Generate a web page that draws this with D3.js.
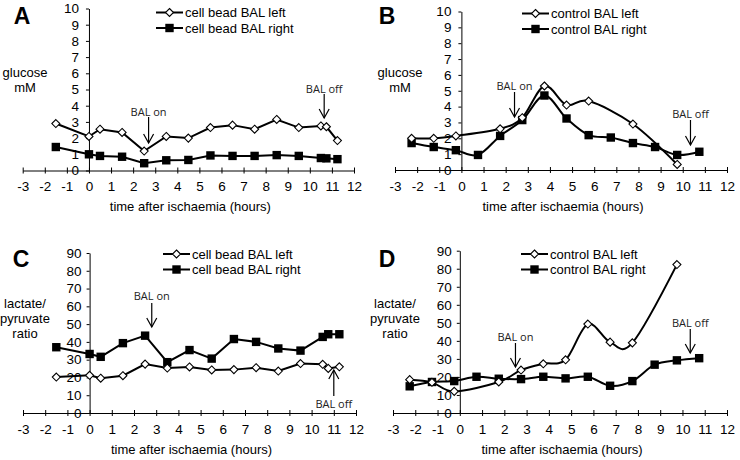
<!DOCTYPE html>
<html><head><meta charset="utf-8">
<script src="https://cdn.jsdelivr.net/npm/d3@7"></script>
<style>body{margin:0;background:#fff}svg{display:block}</style>
</head><body>
<script>
// ---- data ----
const xTickValues = d3.range(-3, 13);
const glucoseTicks = d3.range(0, 11);
const ratioTicks = d3.range(0, 100, 10);

const aTimes = [-1.5, 0, 0.5, 1.5, 2.5, 3.5, 4.5, 5.5, 6.5, 7.5, 8.5, 9.5, 10.5, 10.75, 11.25];
const aLeft  = [2.9, 2.1, 2.55, 2.35, 1.2, 2.1, 2.0, 2.65, 2.8, 2.55, 3.15, 2.65, 2.75, 2.7, 1.85];
const aRight = [1.45, 1.0, 0.9, 0.85, 0.45, 0.63, 0.65, 0.93, 0.9, 0.9, 0.95, 0.9, 0.77, 0.75, 0.7];

const bTimes = [-2.25, -1.25, -0.25, 1.75, 2.75, 3.75, 4.75, 5.75, 7.75, 9.75];
const bLeft  = [2.0, 2.0, 2.15, 2.6, 3.3, 5.3, 4.1, 4.35, 2.9, 0.35];
const bRightTimes = [-2.25, -1.25, -0.25, 0.75, 1.75, 2.75, 3.75, 4.75, 5.75, 6.75, 7.75, 8.75, 9.75, 10.75];
const bRight = [1.7, 1.45, 1.25, 0.95, 2.15, 3.15, 4.7, 3.25, 2.2, 2.05, 1.7, 1.45, 0.95, 1.15];

const cTimes = [-1.5, 0, 0.5, 1.5, 2.5, 3.5, 4.5, 5.5, 6.5, 7.5, 8.5, 9.5, 10.5, 10.75, 11.25];
const cLeft  = [20.2, 21.2, 19.6, 21, 27.5, 25.3, 25.9, 24.2, 24.4, 25.5, 23.6, 27.8, 27.4, 25.1, 26];
const cRight = [37, 33.2, 31.6, 39.3, 43.5, 28.6, 35.4, 30.6, 41.6, 40, 36.3, 35.1, 42.8, 44.3, 44.3];

const dLeftTimes = [-2.25, -1.25, -0.25, 1.75, 2.75, 3.75, 4.75, 5.75, 6.75, 7.75, 9.75];
const dLeft  = [18.5, 17, 12, 17.2, 23.8, 27.3, 29.5, 49.3, 39.3, 38.9, 82.3];
const dRightTimes = [-2.25, -1.25, -0.25, 0.75, 1.75, 2.75, 3.75, 4.75, 5.75, 6.75, 7.75, 8.75, 9.75, 10.75];
const dRight = [14.8, 17.2, 17.7, 20.1, 19, 18.8, 20.1, 19.2, 20.1, 15.1, 17.7, 26.8, 29.2, 30.4];

const panels = [
  {letter:"A", lx:22, ly:16, x0:22.7, x1:354, yT:8.5, yB:170.5, ymax:10, ticks:glucoseTicks, yLabOff:-10,
   ylab:["glucose","mM"], ylabX:25, ylabY:72,
   left:{t:aTimes, v:aLeft}, right:{t:aTimes, v:aRight}, smooth:false,
   legend:["cell bead BAL left","cell bead BAL right"], legX:156, legY:12.5,
   arrows:[{label:"BAL on", x:2.7, ty:112, y1:117, y2:143},
           {label:"BAL off", x:10.65, ty:89, y1:94, y2:118}]},
  {letter:"B", lx:387, ly:16, x0:395, x1:727, yT:11.5, yB:170, ymax:10, ticks:glucoseTicks, yLabOff:-10,
   ylab:["glucose","mM"], ylabX:400, ylabY:72,
   left:{t:bTimes, v:bLeft}, right:{t:bRightTimes, v:bRight}, smooth:true,
   legend:["control BAL left","control BAL right"], legX:522, legY:13.5,
   arrows:[{label:"BAL on", x:2.4, ty:86, y1:92, y2:117},
           {label:"BAL off", x:10.35, ty:114, y1:120, y2:145}]},
  {letter:"C", lx:21, ly:259, x0:23, x1:356, yT:253, yB:413, ymax:90, ticks:ratioTicks, yLabOff:-8,
   ylab:["lactate/","pyruvate","ratio"], ylabX:25, ylabY:303,
   left:{t:cTimes, v:cLeft}, right:{t:cTimes, v:cRight}, smooth:false,
   legend:["cell bead BAL left","cell bead BAL right"], legX:163, legY:254,
   arrows:[{label:"BAL on", x:2.8, ty:296, y1:303, y2:327},
           {label:"BAL off", x:11.0, ty:404, y1:396, y2:370, up:true}]},
  {letter:"D", lx:387, ly:259, x0:393, x1:727, yT:250.7, yB:413, ymax:90, ticks:ratioTicks, yLabOff:-8,
   ylab:["lactate/","pyruvate","ratio"], ylabX:395, ylabY:303,
   left:{t:dLeftTimes, v:dLeft}, right:{t:dRightTimes, v:dRight}, smooth:true,
   legend:["control BAL left","control BAL right"], legX:521, legY:254,
   arrows:[{label:"BAL on", x:2.5, ty:337, y1:343, y2:367},
           {label:"BAL off", x:10.35, ty:323, y1:329, y2:353}]}
];

const FONT = "'Liberation Sans', Arial, sans-serif";
const svg = d3.select("body").append("svg").attr("width", 740).attr("height", 460)
  .style("font-family", FONT);

function diamond(g, cx, cy) {
  g.append("path").attr("d", `M${cx},${cy-4}L${cx+4},${cy}L${cx},${cy+4}L${cx-4},${cy}Z`)
    .attr("fill", "#fff").attr("stroke", "#000").attr("stroke-width", 1.1);
}
function square(g, cx, cy) {
  g.append("rect").attr("x", cx-4.2).attr("y", cy-4.2).attr("width", 8.4).attr("height", 8.4)
    .attr("fill", "#000");
}

panels.forEach(p => {
  const g = svg.append("g");
  const x = d3.scaleLinear().domain([-3, 12]).range([p.x0, p.x1]);
  const y = d3.scaleLinear().domain([0, p.ymax]).range([p.yB, p.yT]);

  // axes
  const xa = g.append("g").attr("transform", `translate(0,${y(0)})`)
    .call(d3.axisBottom(x).tickValues(xTickValues).tickSize(3).tickSizeOuter(0).tickPadding(8)
      .tickFormat(d => String(d)));
  xa.selectAll(".tick line").attr("y1", -3).attr("y2", 3);
  const ya = g.append("g").attr("transform", `translate(${x(0)},0)`)
    .call(d3.axisLeft(y).tickValues(p.ticks).tickSize(3).tickSizeOuter(0).tickPadding(3));
  [xa, ya].forEach(a => {
    a.selectAll("text").attr("font-size", 13.5).attr("fill", "#000").style("font-family", FONT);
    a.selectAll("line,path").attr("stroke", "#000").attr("stroke-width", 1);
  });
  ya.selectAll("text").attr("x", p.yLabOff);

  // labels
  g.append("text").text(p.letter).attr("x", p.lx).attr("y", p.ly).attr("dy", "0.35em")
    .attr("text-anchor", "middle").attr("font-size", 23).attr("font-weight", "bold");
  p.ylab.forEach((s, i) => g.append("text").text(s).attr("x", p.ylabX).attr("y", p.ylabY + i*15)
    .attr("dy", "0.35em").attr("text-anchor", "middle").attr("font-size", 13));
  g.append("text").text("time after ischaemia (hours)").attr("x", (p.x0 + p.x1)/2 + 2)
    .attr("y", y(0) + 36).attr("dy", "0.35em").attr("text-anchor", "middle").attr("font-size", 13);

  // lines
  const curve = p.smooth ? d3.curveCardinal.tension(0) : d3.curveLinear;
  const line = d3.line().x(d => x(d[0])).y(d => y(d[1])).curve(curve);
  const L = p.left.t.map((t, i) => [t, p.left.v[i]]);
  const R = p.right.t.map((t, i) => [t, p.right.v[i]]);
  [R, L].forEach(pts => g.append("path").attr("d", line(pts)).attr("fill", "none")
    .attr("stroke", "#000").attr("stroke-width", 2));
  R.forEach(d => square(g, x(d[0]), y(d[1])));
  L.forEach(d => diamond(g, x(d[0]), y(d[1])));

  // legend
  p.legend.forEach((s, i) => {
    const ly = p.legY + i*15.5;
    g.append("line").attr("x1", p.legX).attr("x2", p.legX + 27).attr("y1", ly).attr("y2", ly)
      .attr("stroke", "#000").attr("stroke-width", 2);
    if (i === 0) diamond(g, p.legX + 13.5, ly); else square(g, p.legX + 13.5, ly);
    g.append("text").text(s).attr("x", p.legX + 29).attr("y", ly).attr("dy", "0.35em").attr("font-size", 13);
  });

  // arrows
  p.arrows.forEach(a => {
    const ax = x(a.x);
    g.append("text").text(a.label).attr("x", ax).attr("y", a.ty).attr("dy", "0.35em")
      .attr("text-anchor", "middle").attr("font-size", 11).style("font-family", "'Open Sans', sans-serif")
      .attr("fill", "#222");
    g.append("line").attr("x1", ax).attr("x2", ax).attr("y1", a.y1).attr("y2", a.y2)
      .attr("stroke", "#000").attr("stroke-width", 1.2);
    const dir = a.up ? -1 : 1;
    g.append("path").attr("d", `M${ax-5},${a.y2 - dir*9}L${ax},${a.y2}L${ax+5},${a.y2 - dir*9}`)
      .attr("fill", "none").attr("stroke", "#000").attr("stroke-width", 1.2);
  });
});
</script>
</body></html>
